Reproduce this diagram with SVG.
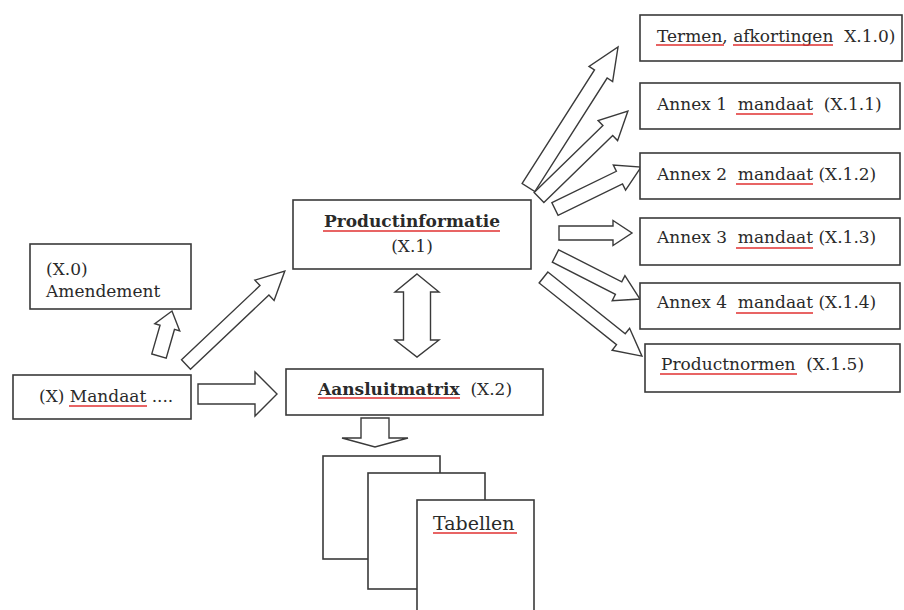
<svg xmlns="http://www.w3.org/2000/svg" width="904" height="610" viewBox="0 0 904 610">
<style>
.box{fill:#fff;stroke:#3a3a3a;stroke-width:1.6}
.arr{fill:#fff;stroke:#3a3a3a;stroke-width:1.4;stroke-linejoin:miter}
.t{font-family:"DejaVu Serif","Liberation Serif",serif;font-size:17px;fill:#2a2a2a;white-space:pre}
.b{font-weight:bold;font-size:17px}
.sp{stroke:#e03030;stroke-width:1.4;fill:none}
</style>
<rect width="904" height="610" fill="#fff"/>
<g id="connectors">
<path class="arr" transform="translate(528.5,187.5) rotate(-57.5)" d="M0,-7.5 L134.6,-7.5 L134.6,-14 L166.6,0 L134.6,14 L134.6,7.5 L0,7.5 Z"/>
<path class="arr" transform="translate(539,197.5) rotate(-44.2)" d="M0,-7 L96,-7 L96,-14 L124,0 L96,14 L96,7 L0,7 Z"/>
<path class="arr" transform="translate(555,209) rotate(-26)" d="M0,-7 L71.7,-7 L71.7,-14 L95.7,0 L71.7,14 L71.7,7 L0,7 Z"/>
<path class="arr" transform="translate(559,233)" d="M0,-7 L54,-7 L54,-12.5 L73,0 L54,12.5 L54,7 L0,7 Z"/>
<path class="arr" transform="translate(555.5,256) rotate(27)" d="M0,-7 L70.8,-7 L70.8,-14 L94.8,0 L70.8,14 L70.8,7 L0,7 Z"/>
<path class="arr" transform="translate(543.5,277.5) rotate(38.6)" d="M0,-7 L99,-7 L99,-14 L126,0 L99,14 L99,7 L0,7 Z"/>
<path class="arr" transform="translate(186,364.5) rotate(-43.4)" d="M0,-6.5 L108,-6.5 L108,-14 L136,0 L108,14 L108,6.5 L0,6.5 Z"/>
<path class="arr" transform="translate(159,356) rotate(-73.9)" d="M0,-7.5 L29.8,-7.5 L29.8,-13 L46.8,0 L29.8,13 L29.8,7.5 L0,7.5 Z"/>
<path class="arr" d="M198,384 L255,384 L255,372 L277,394 L255,416 L255,404 L198,404 Z"/>
<path class="arr" d="M361,418 L389,418 L389,438 L408,438 L375,447 L342,438 L361,438 Z"/>
<path class="arr" d="M417,274 L439,292 L430.5,292 L430.5,340 L439,340 L417,357 L395,340 L403.5,340 L403.5,292 L395,292 Z"/>
</g>
<g id="termen">
<rect class="box" x="640" y="15" width="262" height="46"/>
<text class="t" x="657" y="42" xml:space="preserve">Termen, afkortingen  X.1.0)</text>
<path class="sp" d="M656,45 H724 M733,45 H833"/>
</g>
<g id="annex1">
<rect class="box" x="640" y="83" width="260" height="46"/>
<text class="t" x="657" y="110" xml:space="preserve">Annex 1  mandaat  (X.1.1)</text>
<path class="sp" d="M736,114 H813"/>
</g>
<g id="annex2">
<rect class="box" x="640" y="153" width="260" height="46"/>
<text class="t" x="657" y="180" xml:space="preserve">Annex 2  mandaat (X.1.2)</text>
<path class="sp" d="M736,184 H813"/>
</g>
<g id="annex3">
<rect class="box" x="640" y="218" width="260" height="47"/>
<text class="t" x="657" y="243" xml:space="preserve">Annex 3  mandaat (X.1.3)</text>
<path class="sp" d="M736,248 H813"/>
</g>
<g id="annex4">
<rect class="box" x="640" y="283" width="260" height="46"/>
<text class="t" x="657" y="308" xml:space="preserve">Annex 4  mandaat (X.1.4)</text>
<path class="sp" d="M736,313 H813"/>
</g>
<g id="productnormen">
<rect class="box" x="645" y="344" width="255" height="48"/>
<text class="t" x="661" y="370" xml:space="preserve">Productnormen  (X.1.5)</text>
<path class="sp" d="M660,374 H797"/>
</g>
<g id="productinformatie">
<rect class="box" x="293" y="200" width="238" height="69"/>
<text class="t b" x="412" y="227" text-anchor="middle">Productinformatie</text>
<text class="t" x="412" y="252" text-anchor="middle">(X.1)</text>
<path class="sp" d="M323,231 H500"/>
</g>
<g id="aansluitmatrix">
<rect class="box" x="286" y="369" width="257" height="46"/>
<text class="t" x="318" y="395" xml:space="preserve"><tspan class="b">Aansluitmatrix</tspan>  (X.2)</text>
<path class="sp" d="M318,398 H460"/>
</g>
<g id="amendement">
<rect class="box" x="30" y="244" width="161" height="65"/>
<text class="t" x="46" y="275">(X.0)</text>
<text class="t" x="46" y="297">Amendement</text>
</g>
<g id="mandaat">
<rect class="box" x="13" y="375" width="178" height="44"/>
<text class="t" x="39" y="402">(X) Mandaat ....</text>
<path class="sp" d="M69,406 H147"/>
</g>
<g id="tabellen">
<rect class="box" x="323" y="456" width="117" height="103"/>
<rect class="box" x="368" y="473" width="117" height="116"/>
<rect class="box" x="417" y="500" width="117" height="115"/>
<text class="t" x="433" y="530" style="font-size:19px">Tabellen</text>
<path class="sp" d="M433,533 H517"/>
</g>
</svg>
